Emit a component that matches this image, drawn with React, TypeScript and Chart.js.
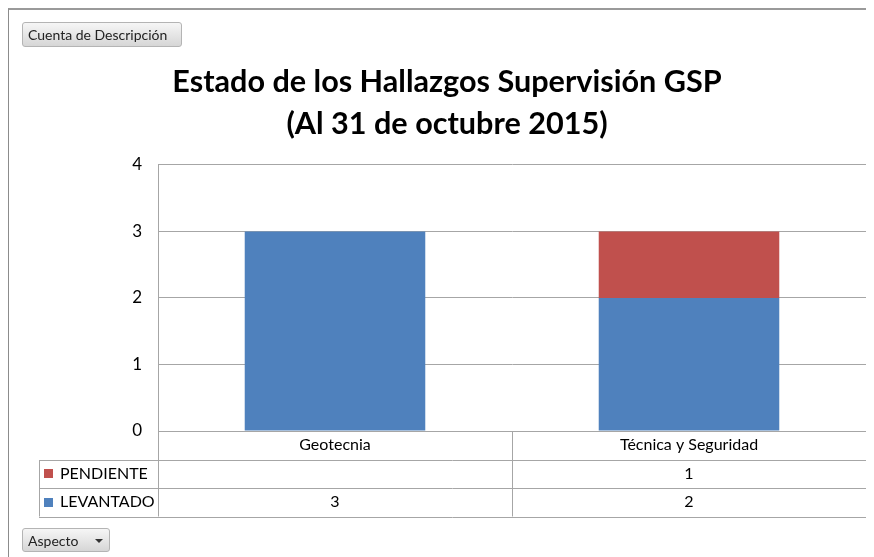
import React, { useEffect, useRef } from "react";
import { Chart, registerables } from "chart.js";

Chart.register(...registerables);

const categories = ["Geotecnia", "Técnica y Seguridad"];
const seriesNames = ["LEVANTADO", "PENDIENTE"];
const levantado: (number | null)[] = [3, 2];
const pendiente: (number | null)[] = [null, 1];
const yTickValues = [0, 1, 2, 3, 4];
const titleLines = ["Estado de los Hallazgos Supervisión GSP", "(Al 31 de octubre 2015)"];
const filterLabel = "Cuenta de Descripción";
const axisFieldLabel = "Aspecto";

const BLUE = "#4F81BD";
const RED = "#C0504D";
const GRID = "#A6A6A6";
const SMALL_FONT = 'Lato, "Open Sans", sans-serif';

const tablePlugin = {
  id: "dataTable",
  afterDraw(chart: any) {
    const ctx = chart.ctx;
    const xs = chart.scales.x;
    const area = chart.chartArea;
    const rowH = 28.5;
    const top = area.bottom;
    const legendLeft = 31;
    const px = (v: number) => Math.round(v) + 0.5;
    ctx.save();
    ctx.strokeStyle = GRID;
    ctx.lineWidth = 1;
    ctx.beginPath();
    for (let i = 1; i <= 3; i++) {
      const y = px(top + rowH * i);
      ctx.moveTo(legendLeft, y);
      ctx.lineTo(area.right, y);
    }
    ctx.moveTo(px(area.left), top);
    ctx.lineTo(px(area.left), top + rowH * 3);
    ctx.moveTo(px(legendLeft), px(top + rowH));
    ctx.lineTo(px(legendLeft), top + rowH * 3);
    ctx.moveTo(px(area.right), top);
    ctx.lineTo(px(area.right), top + rowH * 3);
    for (let i = 1; i < categories.length; i++) {
      const bx = px((xs.getPixelForValue(i - 1) + xs.getPixelForValue(i)) / 2);
      ctx.moveTo(bx, top);
      ctx.lineTo(bx, top + rowH * 3);
    }
    ctx.stroke();

    ctx.fillStyle = "#000";
    ctx.font = "16px " + SMALL_FONT;
    ctx.textBaseline = "middle";
    ctx.textAlign = "center";
    categories.forEach((c, i) => {
      ctx.fillText(c, xs.getPixelForValue(i), top + rowH / 2);
    });
    const dsList = [...chart.data.datasets].reverse();
    dsList.forEach((ds: any, r: number) => {
      const y = top + rowH * (r + 1.5);
      ctx.fillStyle = ds.backgroundColor;
      ctx.fillRect(legendLeft + 5, Math.round(y - 4.5), 9, 9);
      ctx.fillStyle = "#000";
      ctx.textAlign = "left";
      ctx.fillText(ds.label, legendLeft + 21, y);
      ctx.textAlign = "center";
      ds.data.forEach((v: number | null, i: number) => {
        if (v !== null && v !== undefined) {
          ctx.fillText(String(v), xs.getPixelForValue(i), y);
        }
      });
    });
    ctx.restore();
  },
};

export default function App() {
  const ref = useRef<HTMLCanvasElement | null>(null);
  useEffect(() => {
    if (!ref.current) return;
    const chart = new Chart(ref.current, {
      type: "bar",
      data: {
        labels: categories,
        datasets: [
          { label: seriesNames[0], data: levantado, backgroundColor: BLUE, borderWidth: 0 },
          { label: seriesNames[1], data: pendiente, backgroundColor: RED, borderWidth: 0 },
        ],
      },
      options: {
        animation: false,
        responsive: false,
        devicePixelRatio: 1,
        layout: { padding: { left: 20, right: 8, top: 0, bottom: 126 } },
        datasets: { bar: { categoryPercentage: 1, barPercentage: 0.51 } },
        scales: {
          x: {
            display: false,
            stacked: true,
          },
          y: {
            stacked: true,
            min: 0,
            max: 4,
            afterFit: (s: any) => {
              s.width = 130;
            },
            afterBuildTicks: (s: any) => {
              s.ticks = yTickValues.map((v) => ({ value: v }));
            },
            ticks: {
              padding: 16,
              color: "#000",
              font: { size: 17, family: SMALL_FONT },
            },
            grid: { color: GRID, drawTicks: false },
            border: { display: true, color: GRID },
          },
        },
        plugins: {
          legend: { display: false },
          tooltip: { enabled: false },
          title: {
            display: true,
            text: titleLines,
            color: "#000",
            font: { size: 30.6, weight: "bold", family: SMALL_FONT, lineHeight: 1.372 },
            padding: { top: 53, bottom: 20 },
          },
        },
      },
      plugins: [tablePlugin],
    });
    return () => chart.destroy();
  }, []);

  const btn: React.CSSProperties = {
    position: "absolute",
    boxSizing: "border-box",
    background: "linear-gradient(#f6f6f6, #d6d6d6)",
    border: "1px solid #b4b4b4",
    borderRadius: 3,
    fontFamily: SMALL_FONT,
    fontSize: 14,
    color: "#222",
    display: "flex",
    alignItems: "center",
    paddingLeft: 5,
  };

  return (
    <div style={{ position: "relative", width: 866, height: 549 }}>
      <canvas ref={ref} width={866} height={549} style={{ position: "absolute", left: 0, top: 0, width: 866, height: 549 }} />
      <div
        style={{
          position: "absolute",
          left: 0,
          top: 0,
          width: 866,
          height: 549,
          boxSizing: "border-box",
          borderLeft: "1px solid #8c8c8c",
          borderTop: "2px solid #9a9a9a",
          pointerEvents: "none",
        }}
      />
      <div style={{ ...btn, left: 14, top: 14, width: 160, height: 25 }}>{filterLabel}</div>
      <div style={{ ...btn, left: 14, top: 520, width: 88, height: 24 }}>
        {axisFieldLabel}
        <span
          style={{
            position: "absolute",
            left: 72,
            top: 10,
            width: 0,
            height: 0,
            borderLeft: "4px solid transparent",
            borderRight: "4px solid transparent",
            borderTop: "4px solid #333",
          }}
        />
      </div>
    </div>
  );
}
